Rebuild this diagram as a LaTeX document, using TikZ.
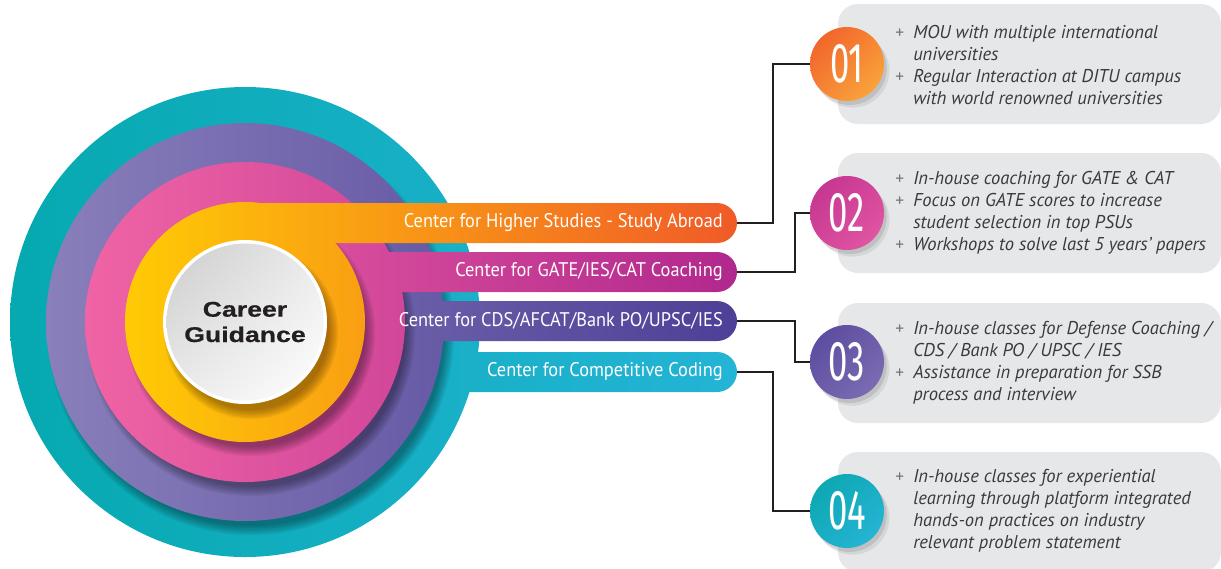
\documentclass[tikz,border=0pt]{standalone}
\usepackage{fontspec}
\setmainfont{PT Sans}
\newfontfamily\bandfont[FakeStretch=0.93]{PT Sans}
\newfontfamily\careerfont[FakeStretch=1.25,FakeBold=0.6]{Liberation Sans}
\newfontfamily\numfont[FakeStretch=0.62]{Fira Sans}
\usetikzlibrary{positioning,shadings}

\definecolor{tealL}{HTML}{06A9B0}
\definecolor{tealR}{HTML}{24B4D6}
\definecolor{purpL}{HTML}{897FBA}
\definecolor{purpR}{HTML}{4E3F97}
\definecolor{pinkL}{HTML}{F064A5}
\definecolor{pinkR}{HTML}{B1288D}
\definecolor{orngL}{HTML}{FFCB05}
\definecolor{orngR}{HTML}{F05A28}
\definecolor{boxgray}{HTML}{E6E7E8}
\definecolor{ink}{HTML}{231F20}
\definecolor{listink}{HTML}{3A3A3C}
\definecolor{oneA}{HTML}{F05A28}
\definecolor{oneB}{HTML}{FBAF3F}
\definecolor{twoA}{HTML}{C1318E}
\definecolor{twoB}{HTML}{E65AA5}
\definecolor{threeA}{HTML}{58479C}
\definecolor{threeB}{HTML}{8071B6}
\definecolor{fourA}{HTML}{08A6AC}
\definecolor{fourB}{HTML}{2AB6DA}

\newcommand\plusitem{\makebox[13.5pt][l]{\upshape\color{black!55}\fontsize{13}{13}\selectfont +}}
\newcommand\moreitem{\hspace*{13.5pt}}

\begin{document}
\begin{tikzpicture}
[x=0.75pt,y=-0.75pt,
  bandtext/.style={anchor=east,inner sep=0pt,text=white,font=\bandfont\fontsize{14.8}{16}\selectfont},
  badge/.style 2 args={circle,minimum size=55.5pt,inner sep=0pt,text=white,
    font=\numfont\fontsize{42}{42}\selectfont,
    shade,upper left=#1,lower right=#2,upper right=#1!50!#2,lower left=#1!50!#2,
    preaction={fill=black,opacity=0.10,transform canvas={shift={(2pt,-3pt)}}},
    preaction={fill=black,opacity=0.07,transform canvas={shift={(4pt,-5pt)}}}},
  infobox/.style={fill=boxgray,rounded corners=15pt,minimum width=287.25pt,minimum height=90pt},
  bullets/.style={anchor=west,align=left,inner sep=0pt,text=listink,
    font=\fontsize{13.9}{16.5}\selectfont\itshape},
  link/.style={draw=ink,line width=1.9pt}]
\useasboundingbox (0,0) rectangle (1221,568);
%% rings and their bands, outside in
\shade[left color=tealL,right color=tealR]
  (245,322) circle[radius=235] [rounded corners=15pt] (737,352) rectangle (245,392);
\foreach \k in {0,...,5}
  \fill[black,opacity=0.065] (251,332) circle[radius=194+\k*1.8];
\shade[left color=purpL,right color=purpR]
  (245,322) circle[radius=199] [rounded corners=15pt] (737,301) rectangle (245,341);
\foreach \k in {0,...,5}
  \fill[black,opacity=0.065] (251,332) circle[radius=155+\k*1.8];
\shade[left color=pinkL,right color=pinkR]
  (245,322) circle[radius=160] [rounded corners=15pt] (737,252) rectangle (245,292);
\foreach \k in {0,...,5}
  \fill[black,opacity=0.065] (251,332) circle[radius=115+\k*1.8];
\shade[left color=orngL,right color=orngR]
  (245,322) circle[radius=120] [rounded corners=15pt] (737,203) rectangle (245,243);
\foreach \k in {0,...,5}
  \fill[black!80!orange,opacity=0.08] (251,332) circle[radius=78+\k*1.8];
\fill[white] (245,322) circle[radius=82];
\shade[upper left=black!20,lower right=white,upper right=black!8,lower left=black!8]
  (245,322) circle[radius=78.5];
\node[font=\careerfont\bfseries\fontsize{16}{19}\selectfont,text=ink,align=center]
  (guide) at (245,322) {Career\\Guidance};
%% band labels
\node[bandtext] (hs) at (723,223) {Center for Higher Studies - Study Abroad};
\node[bandtext] (gate) at (723,272) {Center for GATE/IES/CAT Coaching};
\node[bandtext] (cds) at (723,321) {Center for CDS/AFCAT/Bank PO/UPSC/IES};
\node[bandtext] (code) at (723,372) {Center for Competitive Coding};
\coordinate (hsend) at (737,223);
\coordinate (gateend) at (737,272);
\coordinate (cdsend) at (737,321);
\coordinate (codeend) at (737,372);
%% info boxes
\node[infobox] (b1) at (1029.5,64) {};
\node[infobox] (b2) at (1029.5,213) {};
\node[infobox] (b3) at (1029.5,363) {};
\node[infobox] (b4) at (1029.5,512) {};
%% number badges
\node[badge={oneA}{oneB}] (n1) at (847,64) {01};
\node[badge={twoA}{twoB}] (n2) at (847,213) {02};
\node[badge={threeA}{threeB}] (n3) at (847,362) {03};
\node[badge={fourA}{fourB}] (n4) at (847,511) {04};
%% texts
\node[bullets] (t1) at (895,65) {\plusitem MOU with multiple international\\
  \moreitem universities\\
  \plusitem Regular Interaction at DITU campus\\
  \moreitem with world renowned universities};
\node[bullets] (t2) at (895,213) {\plusitem In-house coaching for GATE \& CAT\\
  \plusitem Focus on GATE scores to increase\\
  \moreitem student selection in top PSUs\\
  \plusitem Workshops to solve last 5 years’ papers};
\node[bullets] (t3) at (895,363) {\plusitem In-house classes for Defense Coaching /\\
  \moreitem CDS / Bank PO / UPSC / IES\\
  \plusitem Assistance in preparation for SSB\\
  \moreitem process and interview};
\node[bullets] (t4) at (895,511) {\plusitem In-house classes for experiential\\
  \moreitem learning through platform integrated\\
  \moreitem hands-on practices on industry\\
  \moreitem relevant problem statement};
%% connectors
\draw[link] (hsend) -- ++(36,0) |- (n1);
\draw[link] (gateend) -- ++(58,0) |- (n2);
\draw[link] (cdsend) -- ++(58,0) |- (n3);
\draw[link] (codeend) -- ++(36,0) |- (n4);
\end{tikzpicture}
\end{document}
